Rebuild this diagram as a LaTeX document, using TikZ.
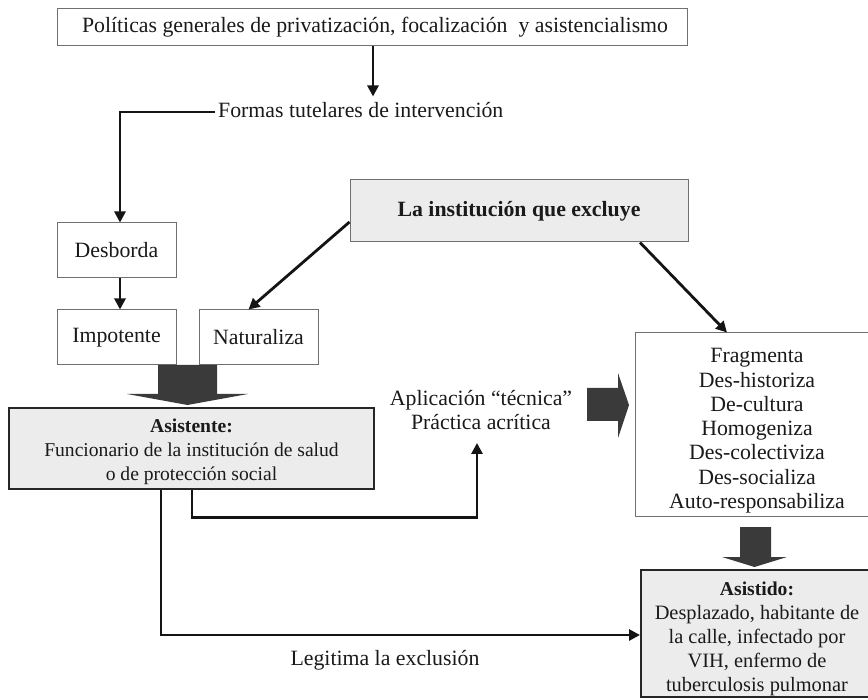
\documentclass[tikz,border=0pt]{standalone}
\usepackage{fontspec}
\setmainfont{Liberation Serif}
\usetikzlibrary{arrows.meta,calc}

\definecolor{boxfill}{HTML}{ECECEC}
\definecolor{thinedge}{HTML}{707070}
\definecolor{darkedge}{HTML}{262626}
\definecolor{blockfill}{HTML}{3A3A3A}
\definecolor{ink}{HTML}{1A1A1A}

\newcommand{\mainsize}{\fontsize{21.8}{24.3}\selectfont}
\newcommand{\keysize}{\fontsize{19.6}{24}\selectfont}
\newcommand{\assize}{\fontsize{20.4}{24}\selectfont}
% invisible strut that lowers a multi-line block inside its box
\newcommand{\lowerby}[1]{\rule{0pt}{#1}}

\tikzset{
  plainbox/.style={draw=thinedge, line width=1pt, fill=white, inner sep=0pt,
                   font=\mainsize, text=ink},
  greybox/.style={draw=thinedge, line width=1pt, fill=boxfill, inner sep=0pt,
                  font=\mainsize\bfseries, text=ink},
  keybox/.style={draw=darkedge, line width=2pt, fill=boxfill, inner sep=0pt,
                 text=ink, align=center},
  plainlabel/.style={inner sep=0pt, font=\mainsize, text=ink, align=center},
  conn/.style={draw=black!92, line width=2.8pt,
               -{Triangle[width=11pt,length=11pt]}},
  blockarrow/.style={fill=blockfill, draw=none},
}

\begin{document}
\begin{tikzpicture}[x=1pt,y=-1pt]
\useasboundingbox (0,0) rectangle (868,700);
\fill[white] (0,0) rectangle (868,700);

% boxes and labels
\node[plainbox, minimum width=630pt, minimum height=37pt] (pol) at (372,27.5)
  {\hspace{6pt}Políticas generales de privatización, focalización\ \ y asistencialismo};
\node[plainlabel, anchor=west] (formas) at (218,110) {Formas tutelares de intervención};

\node[plainbox, minimum width=119pt, minimum height=55pt] (desb) at (116.5,250.5) {Desborda};
\node[plainbox, minimum width=119pt, minimum height=55pt] (impo) at (116.5,337.5) {Impotente};
\node[plainbox, minimum width=119pt, minimum height=55pt] (natu) at (258.5,337.5) {Naturaliza};

\node[greybox, minimum width=338pt, minimum height=62pt] (inst) at (519,211)
  {La institución que excluye};

\node[plainbox, align=center, minimum width=244pt, minimum height=184pt] (frag) at (757,425)
  {\lowerby{26pt}Fragmenta\\Des-historiza\\De-cultura\\Homogeniza\\Des-colectiviza\\Des-socializa\\Auto-responsabiliza};

\node[keybox, font=\keysize, minimum width=365pt, minimum height=81pt] (asis) at (191.5,448.5)
  {\lowerby{21pt}\textbf{Asistente:}\\Funcionario de la institución de salud\\o de protección social};

\node[keybox, font=\assize, minimum width=232pt, minimum height=127pt] (asid) at (757,633.5)
  {\lowerby{24pt}{\keysize\bfseries Asistido:}\\Desplazado, habitante de\\la calle, infectado por\\VIH, enfermo de\\tuberculosis pulmonar};

\node[plainlabel] (aplic) at (481,410) {Aplicación “técnica”\\Práctica acrítica};
\coordinate (aplicB) at (477,443);
\node[plainlabel] (legit) at (385,660) {Legitima la exclusión};

% connectors
\draw[conn] ([xshift=1pt]pol.south) -- ++(0,50);
\draw[conn] ([xshift=-3pt,yshift=-2pt]formas.west) -| ([xshift=3.5pt]desb.north);
\draw[conn] ([xshift=3.5pt]desb.south) -- ([xshift=3.5pt]impo.north);
\draw[conn] ([yshift=-11pt]inst.west) -- ([xshift=-10pt]natu.north);
\draw[conn] ([xshift=121pt]inst.south) -- ([xshift=-30pt]frag.north);
\draw[conn] ([xshift=0.5pt]asis.south) -- ++(0,27.5) -| (aplicB);
\draw[conn] ([xshift=-30.5pt]asis.south) |- ([yshift=-1.5pt]asid.west);

% block arrows
\fill[blockarrow] (158,365) -- (217,365) -- (217,394) -- (248,394) -- (187.5,405)
  -- (127,394) -- (158,394) -- cycle;
\fill[blockarrow] (587,388) -- (618,388) -- (618,373) -- (629,405) -- (618,438)
  -- (618,421) -- (587,421) -- cycle;
\fill[blockarrow] (740,527) -- (771,527) -- (771,557) -- (787,557) -- (754.5,567)
  -- (722,557) -- (740,557) -- cycle;
\end{tikzpicture}
\end{document}
